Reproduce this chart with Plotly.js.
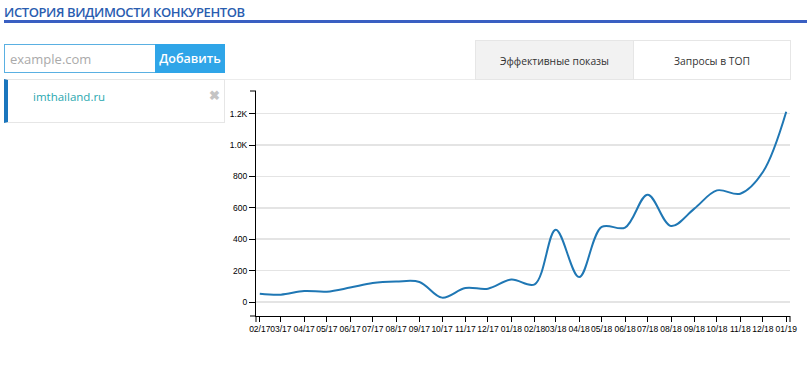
<!DOCTYPE html>
<html>
<head>
<meta charset="utf-8">
<script src="https://cdn.plot.ly/plotly-3.0.1.min.js"></script>
<style>
  html, body { margin:0; padding:0; width:807px; height:370px; background:#fff; overflow:hidden; font-family:"Open Sans", sans-serif; }
  #chart { position:absolute; left:0; top:0; width:807px; height:370px; }
  .abs { position:absolute; box-sizing:border-box; z-index:5; white-space:nowrap; }
  #title { left:4px; top:3px; font-size:13px; color:#2a5db0; letter-spacing:-0.4px; font-weight:600; }
  #rule { left:4px; top:20px; width:803px; height:3px; background:#3a5fc2; }
  #input { left:4px; top:44px; width:152px; height:29px; border:1px solid #5ab0e2; font-size:13px; color:#aaa; padding:5px 0 0 5px; }
  #btn { left:155px; top:44px; width:70px; height:29px; background:#2fa5e8; color:#fff; font-size:12.5px; text-align:center; line-height:29px; font-weight:600; }
  #item { left:4px; top:79px; width:221px; height:44px; border:1px solid #e6e6e6; border-left:4px solid #1a76bd; }
  #itemtext { left:33px; top:89px; font-size:11.5px; color:#2aa8b0; }
  #x { left:209px; top:86px; font-size:13px; color:#c4c4c4; font-weight:bold; }
  #tab1 { left:475px; top:40px; width:159px; height:40px; background:#f2f2f2; border:1px solid #e6e6e6; font-size:10.3px; color:#333; text-align:center; line-height:40px; }
  #tab2 { left:633px; top:40px; width:158px; height:40px; background:#fff; border:1px solid #e6e6e6; font-size:10.3px; color:#333; text-align:center; line-height:40px; }
  #hline { left:225px; top:79px; width:566px; height:1px; background:#ececec; }
</style>
</head>
<body>
<div id="chart"></div>
<div class="abs" id="title">ИСТОРИЯ ВИДИМОСТИ КОНКУРЕНТОВ</div>
<div class="abs" id="rule"></div>
<div class="abs" id="input">example.com</div>
<div class="abs" id="btn">Добавить</div>
<div class="abs" id="hline"></div>
<div class="abs" id="item"></div>
<div class="abs" id="itemtext">imthailand.ru</div>
<div class="abs" id="x">✖</div>
<div class="abs" id="tab1">Эффективные показы</div>
<div class="abs" id="tab2">Запросы в ТОП</div>
<script>
const months = ["2017-02-01","2017-03-01","2017-04-01","2017-05-01","2017-06-01","2017-07-01","2017-08-01","2017-09-01","2017-10-01","2017-11-01","2017-12-01","2018-01-01","2018-02-01","2018-03-01","2018-04-01","2018-05-01","2018-06-01","2018-07-01","2018-08-01","2018-09-01","2018-10-01","2018-11-01","2018-12-01","2019-01-01"];
const monthLabels = ["02/17","03/17","04/17","05/17","06/17","07/17","08/17","09/17","10/17","11/17","12/17","01/18","02/18","03/18","04/18","05/18","06/18","07/18","08/18","09/18","10/18","11/18","12/18","01/19"];
const visibility = [53,47,70,66,92,121,130,128,28,89,85,143,113,461,159,478,474,684,484,595,711,690,828,1212];
const yTickVals = [0,200,400,600,800,1000,1200];
const yTickText = ["0","200","400","600","800","1.0K","1.2K"];

const trace = {
  x: months, y: visibility, type: "scatter", mode: "lines",
  line: { color: "#1f77b4", width: 2, shape: "spline", smoothing: 1 },
  hoverinfo: "x+y"
};
const capX = -6/534, capY = -6/225;
const layout = {
  width: 807, height: 370,
  margin: { l: 256, r: 17, t: 91, b: 54, pad: 0 },
  paper_bgcolor: "rgba(0,0,0,0)", plot_bgcolor: "rgba(0,0,0,0)",
  showlegend: false,
  font: { family: "Liberation Sans, Arial, sans-serif", size: 8.5, color: "#000" },
  xaxis: {
    type: "date", range: ["2017-01-27", "2019-01-06"],
    tickvals: months, ticktext: monthLabels,
    tickangle: 0, ticklabeloverflow: "allow", ticklabelstandoff: 0,
    ticks: "outside", ticklen: 5, tickcolor: "#000", tickwidth: 1,
    showline: true, linecolor: "#000", linewidth: 1,
    showgrid: false, zeroline: false, fixedrange: true,
    tickfont: { size: 8.5, color: "#000" }
  },
  yaxis: {
    range: [-89, 1344],
    tickvals: yTickVals, ticktext: yTickText,
    ticks: "outside", ticklen: 6, tickcolor: "#000", tickwidth: 1,
    showline: true, linecolor: "#000", linewidth: 1,
    showgrid: true, gridcolor: "#e4e4e4", gridwidth: 1.5,
    zeroline: false, fixedrange: true,
    tickfont: { size: 8.5, color: "#000" }
  },
  shapes: [
    { type: "line", xref: "paper", yref: "paper", x0: capX, x1: 0, y0: 1, y1: 1, line: { color: "#000", width: 1 } },
    { type: "line", xref: "paper", yref: "paper", x0: capX, x1: 0, y0: 0, y1: 0, line: { color: "#000", width: 1 } },
    { type: "line", xref: "paper", yref: "paper", x0: 1, x1: 1, y0: 0, y1: capY, line: { color: "#000", width: 1 } },
    { type: "line", xref: "paper", yref: "paper", x0: 0, x1: 0, y0: 0, y1: capY, line: { color: "#000", width: 1 } }
  ]
};
Plotly.newPlot("chart", [trace], layout, { displayModeBar: false, staticPlot: true });
</script>
</body>
</html>
